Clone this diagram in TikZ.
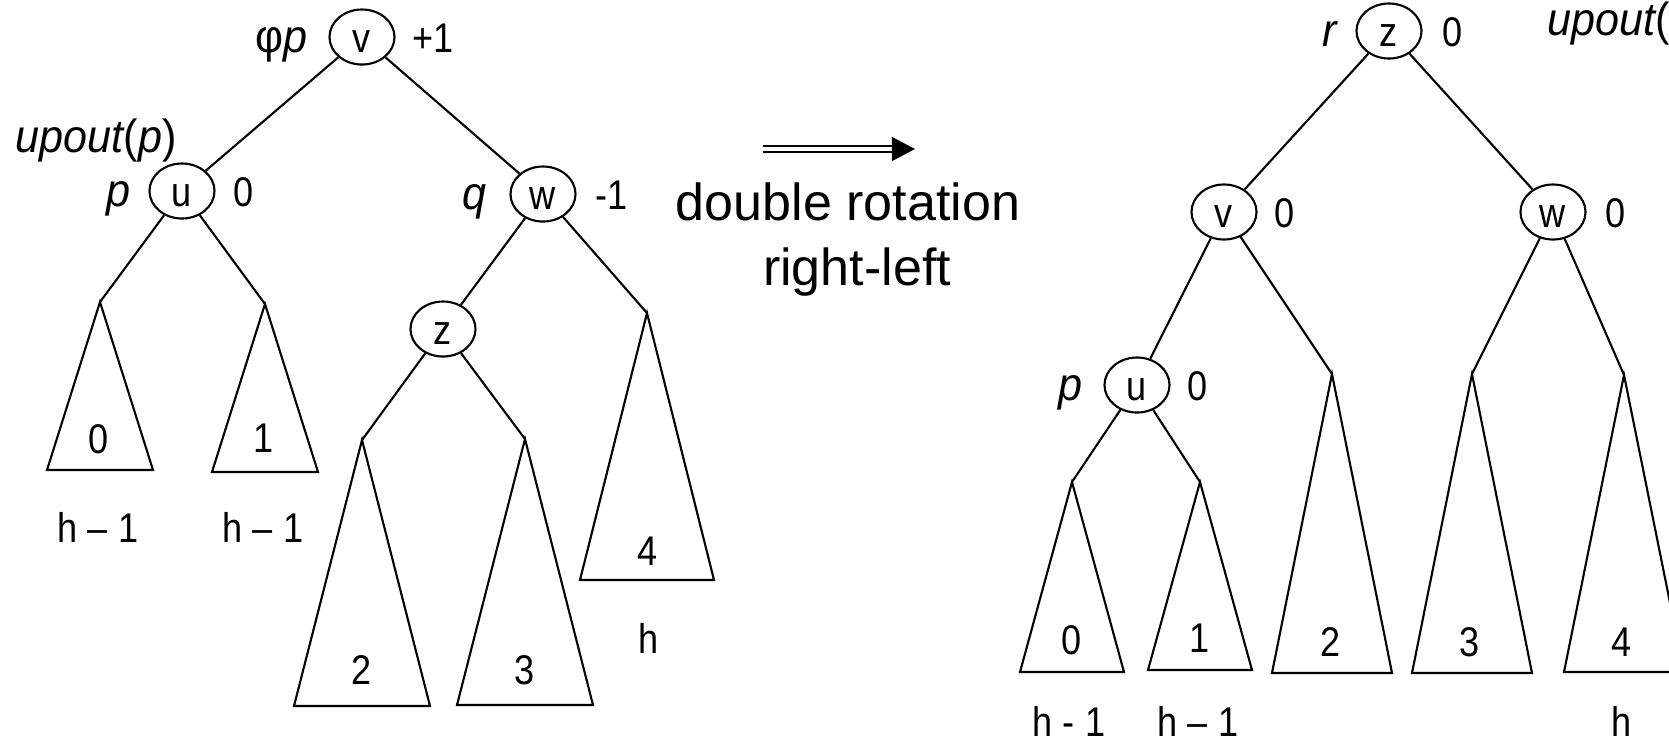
\documentclass[tikz,border=0pt]{standalone}
\usepackage{fontspec}
\setmainfont{Liberation Sans}
\newfontfamily\narrowsans[FakeStretch=0.87]{Liberation Sans}
\newfontfamily\itsans[FakeStretch=0.93]{Liberation Sans}
\usetikzlibrary{arrows.meta, positioning, shapes.geometric}
\newcommand\lblfont{\narrowsans\fontsize{11.8}{14}\selectfont}
\newcommand\itlblfont{\itsans\fontsize{13.2}{15}\selectfont\itshape}
\newcommand\rotfont{\fontsize{14.8}{18}\selectfont}
\tikzset{
  % tree parts
  knot/.style   = {draw, ellipse, line width=0.6pt, minimum width=0.65cm, minimum height=0.55cm,
                   inner xsep=0pt, inner ysep=-2pt, font=\lblfont, text height=10.5pt, text depth=1.5pt},
  lbl/.style    = {inner sep=0pt, font=\lblfont, text height=10.5pt, text depth=1.5pt},
  itlbl/.style  = {lbl, font=\itlblfont},
  tlbl/.style   = {inner sep=0pt, font=\lblfont},
  subtri/.style = {draw, line width=0.6pt, line join=miter},
  % lines
  link/.style     = {line width=0.6pt},
  dblarrow/.style = {double, double distance=1.05pt, line width=0.55pt,
                     -{Triangle[length=6.6pt, width=6.8pt]}},
  rottext/.style  = {inner sep=0pt, font=\rotfont},
}

\begin{document}
\begin{tikzpicture}[x=0.01cm, y=-0.01cm]
\useasboundingbox (0,0) rectangle (1669,744);

% ---------- Left tree ----------
\node[knot] (lv) at (362,37)  {v};
\node[knot] (lu) at (182,191) {u};
\node[knot] (lw) at (543,194) {w};
\node[knot] (lz) at (443,329) {z};

\node[itlbl, left=0.2cm of lv]   (lvname) {{\upshape φ}p};
\node[lbl,   right=0.16cm of lv] (lvbal)  {+1};
\node[itlbl, left=0.17cm of lu]  (luname) {p};
\node[lbl,   right=0.17cm of lu] (lubal)  {0};
\node[itlbl, left=0.22cm of lw]  (lwname) {q};
\node[lbl,   right=0.18cm of lw] (lwbal)  {-1};
\node[itlbl, anchor=base west] (lup) at (15,152) {upout{\upshape(}p{\upshape)}};

\coordinate (la0) at (100,302);
\coordinate (la1) at (265,304);
\coordinate (la2) at (362,440);
\coordinate (la3) at (525,439);
\coordinate (la4) at (647,313);

\draw[subtri] (la0) -- ++(-53,168) -- ++(106,0) -- cycle;
\draw[subtri] (la1) -- ++(-53,168) -- ++(106,0) -- cycle;
\draw[subtri] (la2) -- ++(-68,266) -- ++(136,0) -- cycle;
\draw[subtri] (la3) -- ++(-68,266) -- ++(136,0) -- cycle;
\draw[subtri] (la4) -- ++(-67,267) -- ++(134,0) -- cycle;

\node[tlbl] (lt0) at (99,439)  {0};
\node[tlbl] (lt1) at (264,438) {1};
\node[tlbl] (lt2) at (362,670) {2};
\node[tlbl] (lt3) at (525,670) {3};
\node[tlbl] (lt4) at (648,551) {4};

\node[tlbl] (lh0) at (98,527)  {h – 1};
\node[tlbl] (lh1) at (263,527) {h – 1};
\node[tlbl] (lh4) at (649,638) {h};

\draw[link] (lv) -- (lu);
\draw[link] (lv) -- (lw);
\draw[link] (lw) -- (lz);
\draw[link] (lu) -- (la0);
\draw[link] (lu) -- (la1);
\draw[link] (lz) -- (la2);
\draw[link] (lz) -- (la3);
\draw[link] (lw) -- (la4);

% ---------- Rotation arrow ----------
\coordinate (arrs) at (763,149);
\coordinate (arre) at (915,149);
\draw[dblarrow] (arrs) -- (arre);
\node[rottext, anchor=base] (rot1) at (848,220) {double rotation};
\node[rottext, anchor=base] (rot2) at (857,285) {right-left};

% ---------- Right tree ----------
\node[knot] (rz) at (1389,31)  {z};
\node[knot] (rv) at (1224,212) {v};
\node[knot] (rw) at (1553,212) {w};
\node[knot] (ru) at (1137,385) {u};

\node[itlbl, left=0.18cm of rz]  (rzname) {r};
\node[lbl,   right=0.19cm of rz] (rzbal)  {0};
\node[lbl,   right=0.16cm of rv] (rvbal)  {0};
\node[lbl,   right=0.18cm of rw] (rwbal)  {0};
\node[itlbl, left=0.2cm of ru]   (runame) {p};
\node[lbl,   right=0.16cm of ru] (rubal)  {0};
\node[itlbl, anchor=base west] (rup) at (1547,35) {upout{\upshape(}};

\coordinate (ra0) at (1072,482);
\coordinate (ra1) at (1200,482);
\coordinate (ra2) at (1332,374);
\coordinate (ra3) at (1472,374);
\coordinate (ra4) at (1624,375);

\draw[subtri] (ra0) -- ++(-52,190) -- ++(104,0) -- cycle;
\draw[subtri] (ra1) -- ++(-52,188) -- ++(104,0) -- cycle;
\draw[subtri] (ra2) -- ++(-60,299) -- ++(120,0) -- cycle;
\draw[subtri] (ra3) -- ++(-60,299) -- ++(120,0) -- cycle;
\draw[subtri] (ra4) -- ++(-60,297) -- ++(120,0) -- cycle;

\node[tlbl] (rt0) at (1072,640) {0};
\node[tlbl] (rt1) at (1200,638) {1};
\node[tlbl] (rt2) at (1331,642) {2};
\node[tlbl] (rt3) at (1470,642) {3};
\node[tlbl] (rt4) at (1622,642) {4};

\node[tlbl] (rh0) at (1069,721) {h - 1};
\node[tlbl] (rh1) at (1198,721) {h – 1};
\node[tlbl] (rh4) at (1622,721) {h};

\draw[link] (rz) -- (rv);
\draw[link] (rz) -- (rw);
\draw[link] (rv) -- (ru);
\draw[link] (rv) -- (ra2);
\draw[link] (ru) -- (ra0);
\draw[link] (ru) -- (ra1);
\draw[link] (rw) -- (ra3);
\draw[link] (rw) -- (ra4);

\end{tikzpicture}
\end{document}
